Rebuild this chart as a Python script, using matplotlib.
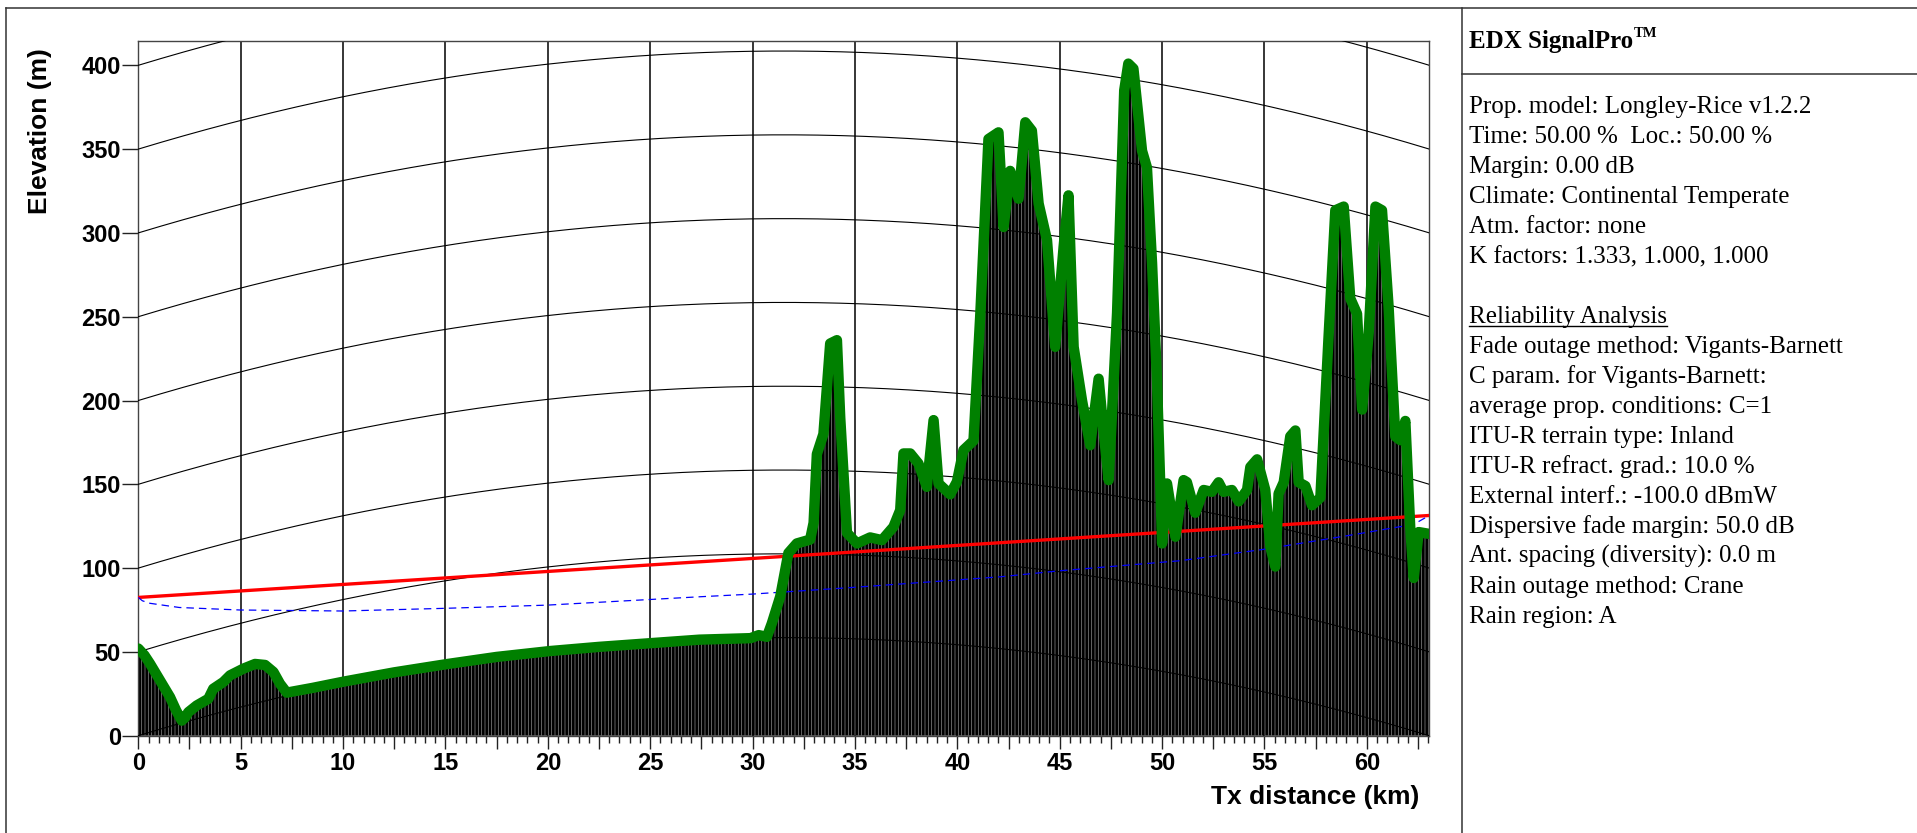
import numpy as np
import matplotlib
matplotlib.use("Agg")
from matplotlib import pyplot as plt
from matplotlib.lines import Line2D
from matplotlib.ticker import FixedLocator, MultipleLocator, FuncFormatter

# terrain profile (distance km, elevation m incl. earth bulge)
dist_km = [0.0, 0.3, 0.57, 1.06, 1.55, 1.85, 2.12, 2.3, 2.44, 2.85, 3.42, 3.66, 4.15,
           4.48, 5.13, 5.7, 6.19, 6.6, 6.92, 7.25, 8.5, 10.0, 12.5, 15.0, 17.5, 20.1,
           22.5, 25.0, 27.4, 29.9, 30.3, 30.7, 30.94, 31.35, 31.75, 32.16, 32.81, 32.98,
           33.14, 33.46, 33.79, 34.12, 34.28, 34.61, 35.1, 35.74, 36.32, 36.88, 37.21,
           37.37, 37.7, 38.1, 38.51, 38.84, 39.08, 39.65, 39.98, 40.3, 40.79, 41.12,
           41.52, 42.01, 42.26, 42.58, 42.99, 43.32, 43.64, 43.97, 44.38, 44.78, 45.19,
           45.43, 45.68, 46.09, 46.49, 46.9, 47.14, 47.39, 47.8, 48.15, 48.35, 48.6,
           49.02, 49.26, 49.51, 49.75, 50.0, 50.24, 50.65, 51.05, 51.21, 51.62, 52.03,
           52.43, 52.76, 53.0, 53.41, 53.74, 54.15, 54.31, 54.64, 55.04, 55.29, 55.53,
           55.69, 55.94, 56.26, 56.51, 56.67, 57.0, 57.32, 57.73, 58.13, 58.46, 58.87,
           59.19, 59.52, 59.77, 60.09, 60.42, 60.74, 61.06, 61.39, 61.64, 61.88, 62.12,
           62.29, 62.53, 63.05]
elev_m = [52, 48, 43, 33, 23, 15, 9, 11, 14, 18, 22, 28, 32,
          36, 40, 42.8, 42.2, 38, 31, 25.7, 28.5, 32.2, 37.8, 42.6, 47, 50.5,
          53, 55.2, 57.3, 58.2, 60, 59, 67, 83, 109, 114.7, 117, 127,
          168, 180, 234, 236, 190, 121, 114.7, 118.3, 116.7, 124.6, 134.6,
          168.4, 168.4, 162.4, 148.5, 188.3, 150.5, 144, 151.5, 170.4, 176, 251,
          356, 360, 303.5, 337, 320.4, 366, 361, 317.5, 295.6, 232, 291.6,
          322.4, 232, 200, 173.3, 213, 182, 152.5, 252, 385, 401, 398,
          349, 339, 282, 212, 114.7, 150.5, 118.7, 152.5, 151.3, 133, 146.6,
          145.5, 151.2, 145.5, 146.6, 139.8, 146.6, 160.3, 164.9, 146.6, 112.4, 100.9,
          144.4, 151.2, 178.6, 182.1, 151.2, 149, 137.5, 142.1, 238, 313.5, 315.7,
          260.9, 251.8, 194.6, 240.3, 315.7, 313.5, 256.3, 178.6, 176.3, 187.8, 123.9,
          94.1, 121.5, 120.4]

# line of sight (red)
los_km = [0.0, 63.05]
los_m = [82.5, 131.4]

# fresnel zone lower edge (blue dashed)
fres_km = [0.0, 0.2, 0.57, 2.0, 4.97, 10.0, 14.98, 19.95, 27.43, 30.0, 34.93, 42.1,
           45.0, 50.88, 54.96, 59.03, 62.29, 63.05]
fres_m = [82.5, 80.5, 79.0, 76.5, 75.0, 74.4, 76.0, 77.9, 82.9, 84.5, 88.5, 94.8,
          98.4, 104.4, 111.2, 119.3, 126.1, 131.4]

# earth curvature reference lines
curve_levels = [0, 50, 100, 150, 200, 250, 300, 350, 400]
k_factor = 1.333
earth_radius_km = 6371.0
path_len = 63.05

info_lines = [
    "Prop. model: Longley-Rice v1.2.2",
    "Time: 50.00 %  Loc.: 50.00 %",
    "Margin: 0.00 dB",
    "Climate: Continental Temperate",
    "Atm. factor: none",
    "K factors: 1.333, 1.000, 1.000",
    "",
    "Reliability Analysis",
    "Fade outage method: Vigants-Barnett",
    "C param. for Vigants-Barnett:",
    "average prop. conditions: C=1",
    "ITU-R terrain type: Inland",
    "ITU-R refract. grad.: 10.0 %",
    "External interf.: -100.0 dBmW",
    "Dispersive fade margin: 50.0 dB",
    "Ant. spacing (diversity): 0.0 m",
    "Rain outage method: Crane",
    "Rain region: A",
]

W, H = 1917, 833
plt.rcParams["hatch.linewidth"] = 0.5
plt.rcParams["font.family"] = "Liberation Sans"
plt.rcParams["font.weight"] = "bold"
fig = plt.figure(figsize=(W / 100, H / 100), dpi=100)


def fx(px):
    return px / W


def fy(py):
    return 1 - py / H


ax = fig.add_axes([fx(138.3), fy(735.7), fx(1429.3) - fx(138.3), fy(41) - fy(735.7)])
ax.set_xlim(0, path_len)
ax.set_ylim(0, 414.5)

# grid: vertical every 5 km + earth curvature lines
for gx in range(5, 63, 5):
    ax.axvline(gx, color="black", lw=1.1, zorder=1)
xs = np.linspace(0, path_len, 400)
bulge = xs * (path_len - xs) * 1000 / (2 * k_factor * earth_radius_km)
for h in curve_levels:
    ax.plot(xs, h + bulge, color="black", lw=0.8, zorder=3)

ax.fill_between(dist_km, elev_m, 0, facecolor="black", edgecolor="#8c8c8c",
                hatch="|||||", linewidth=0, zorder=2)
ax.plot(los_km, los_m, color="#ff0000", lw=2.4, zorder=5)
ax.plot(fres_km, fres_m, color="#0000ff", lw=0.9, dashes=(6, 4), zorder=5)
ax.plot(dist_km, elev_m, color="#008000", lw=7.5, solid_joinstyle="round",
        solid_capstyle="round", zorder=6)

for s in ax.spines.values():
    s.set_color("#444444")
    s.set_linewidth(1.0)

ax.xaxis.set_major_locator(FixedLocator(np.arange(0, 63.1, 2.5)))
ax.xaxis.set_minor_locator(MultipleLocator(0.5))
ax.xaxis.set_major_formatter(FuncFormatter(lambda v, p: f"{v:.0f}" if abs(v % 5) < 1e-6 else ""))
ax.set_yticks(range(0, 401, 50))
ax.tick_params(axis="x", which="major", length=9, width=1, pad=3, color="#222222", labelsize=17)
ax.tick_params(axis="x", which="minor", length=5, width=1, color="#222222")
ax.tick_params(axis="y", which="major", length=11.5, width=1, pad=1, color="#222222", labelsize=17)

fig.text(fx(39.5), fy(131), "Elevation (m)", rotation=90, ha="center", va="center",
         fontsize=19, fontweight="bold")
fig.text(fx(1419), fy(804), "Tx distance (km)", ha="right", va="baseline",
         fontsize=19, fontweight="bold")

# frame lines
for (x0, y0, x1, y1) in [(6, 8, W, 8), (6, 8, 6, H), (1462, 8, 1462, H), (1462, 74, W, 74)]:
    fig.add_artist(Line2D([fx(x0), fx(x1)], [fy(y0), fy(y1)], color="#333333", lw=1.1))

title = fig.text(fx(1469), fy(48), "EDX SignalPro", ha="left", va="baseline",
                 fontsize=18, fontweight="bold", family="Liberation Serif")
fig.canvas.draw()
tb = title.get_window_extent()
fig.text(tb.x1 / W + 0.0005, fy(37), "TM", ha="left", va="baseline",
         fontsize=10.5, fontweight="bold", family="Liberation Serif")

for i, line in enumerate(info_lines):
    if not line:
        continue
    t = fig.text(fx(1469), fy(113 + 30 * i), line, ha="left", va="baseline",
                 fontsize=18, fontweight="normal", family="Liberation Serif")
    if line == "Reliability Analysis":
        fig.canvas.draw()
        bb = t.get_window_extent()
        yy = fy(113 + 30 * i + 3)
        fig.add_artist(Line2D([bb.x0 / W, bb.x1 / W], [yy, yy], color="black", lw=1.0))

fig.savefig("out.png", dpi=100)
